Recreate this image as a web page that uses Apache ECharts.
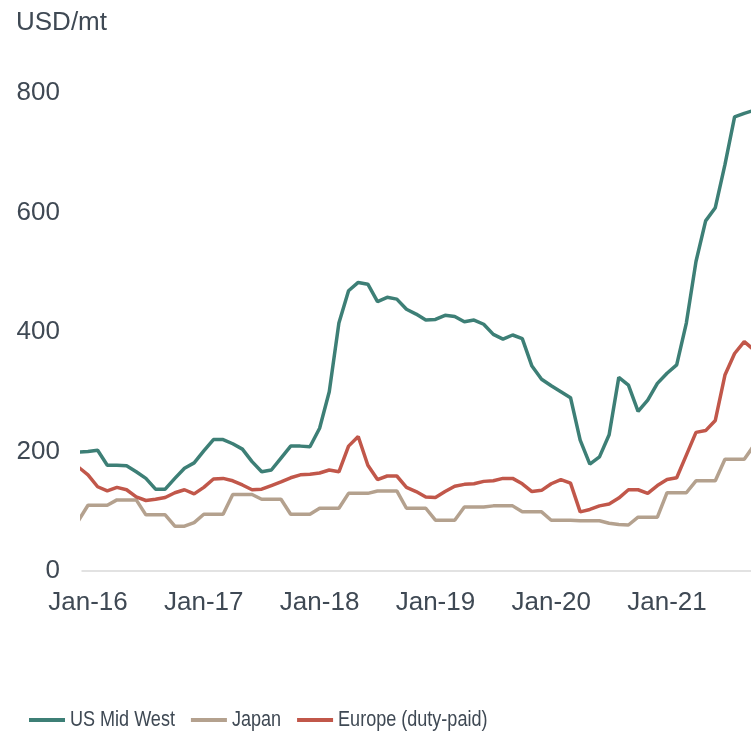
<!DOCTYPE html>
<html>
<head>
<meta charset="utf-8">
<title>Aluminium premiums</title>
<script src="https://cdn.jsdelivr.net/npm/echarts@6/dist/echarts.min.js"></script>
<style>
  html, body { margin: 0; padding: 0; background: #ffffff; }
  #chart { width: 751px; height: 735px; }
</style>
</head>
<body>
<div id="chart"></div>
<script>
// Monthly regional premiums, Dec-15 to Oct-21 (USD/mt)
const months = [
  'Dec-15',
  'Jan-16','Feb-16','Mar-16','Apr-16','May-16','Jun-16','Jul-16','Aug-16','Sep-16','Oct-16','Nov-16','Dec-16',
  'Jan-17','Feb-17','Mar-17','Apr-17','May-17','Jun-17','Jul-17','Aug-17','Sep-17','Oct-17','Nov-17','Dec-17',
  'Jan-18','Feb-18','Mar-18','Apr-18','May-18','Jun-18','Jul-18','Aug-18','Sep-18','Oct-18','Nov-18','Dec-18',
  'Jan-19','Feb-19','Mar-19','Apr-19','May-19','Jun-19','Jul-19','Aug-19','Sep-19','Oct-19','Nov-19','Dec-19',
  'Jan-20','Feb-20','Mar-20','Apr-20','May-20','Jun-20','Jul-20','Aug-20','Sep-20','Oct-20','Nov-20','Dec-20',
  'Jan-21','Feb-21','Mar-21','Apr-21','May-21','Jun-21','Jul-21','Aug-21','Sep-21','Oct-21'
];

const usMidWest = [
  199,
  200, 202, 177, 177, 176, 166, 155, 137, 137, 155, 172, 181,
  201, 220, 220, 213, 204, 183, 166, 169, 189, 209, 209, 208,
  239, 300, 415, 469, 483, 480, 451, 458, 455, 438, 430, 420,
  421, 428, 426, 417, 420, 413, 396, 388, 395, 389, 343, 321,
  310, 300, 290, 219, 179, 191, 228, 324, 311, 267, 286, 314,
  331, 345, 415, 518, 586, 608, 680, 760, 766, 771
];

const japan = [
  84,
  110, 110, 110, 119, 119, 119, 94, 94, 94, 75, 75, 81,
  95, 95, 95, 128, 128, 128, 120, 120, 120, 95, 95, 95,
  105, 105, 105, 130, 130, 130, 134, 134, 134, 105, 105, 105,
  85, 85, 85, 107, 107, 107, 109, 109, 109, 99, 99, 99,
  85, 85, 85, 84, 84, 84, 80, 78, 77, 90, 90, 90,
  131, 131, 131, 151, 151, 151, 187, 187, 187, 210
];

const europe = [
  174,
  161, 141, 134, 140, 136, 124, 118, 120, 123, 131, 136, 129,
  140, 154, 155, 151, 144, 136, 137, 143, 149, 156, 161, 162,
  164, 169, 166, 209, 225, 177, 153, 159, 159, 140, 133, 124,
  123, 133, 142, 145, 146, 150, 151, 155, 155, 146, 133, 135,
  146, 153, 147, 99, 103, 109, 112, 122, 136, 136, 130, 143,
  153, 156, 194, 232, 235, 252, 328, 364, 384, 370
];

const seriesNames = ['US Mid West', 'Japan', 'Europe (duty-paid)'];
const yTicks = [0, 200, 400, 600, 800];

const palette = ['#3d7f76', '#b4a18e', '#c1574a'];
const textColor = '#3f4954';
const font = "'Liberation Sans', Arial, sans-serif";

// Year labels sit on each January
const yearTickIdx = months.map((m, i) => (m.startsWith('Jan-') ? i : -1)).filter(i => i >= 0);
const toPairs = arr => arr.map((v, i) => [i, v]);

// Condensed legend: swatch + horizontally narrowed label, laid out left to right
const legendFontSize = 22;
const legendSquash = 0.82;
const measureCtx = document.createElement('canvas').getContext('2d');
measureCtx.font = legendFontSize + 'px ' + font;
const legendGraphics = [];
let lx = 29;
const ly = 720;
seriesNames.forEach((name, k) => {
  legendGraphics.push({
    type: 'rect',
    shape: { x: lx, y: ly - 2, width: 36, height: 4 },
    style: { fill: palette[k] }
  });
  const tx = lx + 41;
  legendGraphics.push({
    type: 'text',
    x: tx,
    y: ly,
    scaleX: legendSquash,
    style: {
      text: name,
      fontSize: legendFontSize,
      fontFamily: font,
      fill: textColor,
      align: 'left',
      verticalAlign: 'middle'
    }
  });
  lx = tx + measureCtx.measureText(name).width * legendSquash + 16;
});

const chart = echarts.init(document.getElementById('chart'), null, { renderer: 'canvas' });

chart.setOption({
  animation: false,
  backgroundColor: '#ffffff',
  color: palette,
  graphic: [{
    type: 'text',
    left: 16,
    top: 10,
    style: { text: 'USD/mt', fontSize: 26, fontFamily: font, fill: textColor }
  }].concat(legendGraphics),
  grid: { left: 82, right: 0, top: 93, bottom: 164 },
  legend: { show: false, data: seriesNames },
  xAxis: {
    type: 'value',
    min: 0.38,
    max: 69.7,
    splitLine: { show: false },
    axisTick: { show: false },
    axisLine: { show: true, lineStyle: { color: '#d9d9d9', width: 1.5 } },
    axisLabel: {
      customValues: yearTickIdx,
      formatter: v => months[Math.round(v)],
      fontSize: 26,
      fontFamily: font,
      color: textColor,
      margin: 19,
      showMinLabel: true,
      showMaxLabel: true
    }
  },
  yAxis: {
    type: 'value',
    min: yTicks[0],
    max: yTicks[yTicks.length - 1],
    interval: 200,
    splitLine: { show: false },
    axisLine: { show: false },
    axisTick: { show: false },
    axisLabel: { fontSize: 26, fontFamily: font, color: textColor, margin: 22 }
  },
  series: [
    { name: seriesNames[0], type: 'line', data: toPairs(usMidWest), symbol: 'none', lineStyle: { width: 3.5 }, z: 4 },
    { name: seriesNames[1], type: 'line', data: toPairs(japan), symbol: 'none', lineStyle: { width: 3.5 }, z: 2 },
    { name: seriesNames[2], type: 'line', data: toPairs(europe), symbol: 'none', lineStyle: { width: 3.5 }, z: 3 }
  ]
});
</script>
</body>
</html>
